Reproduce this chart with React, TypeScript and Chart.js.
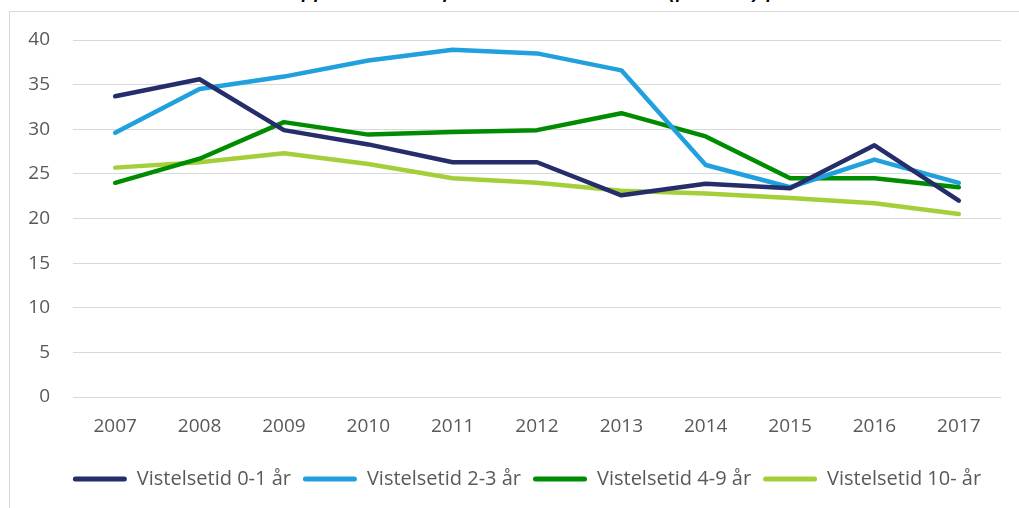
import React, { useEffect, useRef } from "react";
import { Chart, registerables } from "chart.js";

Chart.register(...registerables);

const years = ["2007", "2008", "2009", "2010", "2011", "2012", "2013", "2014", "2015", "2016", "2017"];
const seriesNames = ["Vistelsetid 0-1 år", "Vistelsetid 2-3 år", "Vistelsetid 4-9 år", "Vistelsetid 10- år"];
const v01 = [33.7, 35.6, 29.9, 28.3, 26.3, 26.3, 22.6, 23.9, 23.4, 28.2, 22.0];
const v23 = [29.6, 34.5, 35.9, 37.7, 38.9, 38.5, 36.6, 26.0, 23.5, 26.6, 24.0];
const v49 = [24.0, 26.7, 30.8, 29.4, 29.7, 29.9, 31.8, 29.2, 24.5, 24.5, 23.5];
const v10 = [25.7, 26.3, 27.3, 26.1, 24.5, 24.0, 23.1, 22.8, 22.3, 21.7, 20.5];
const colors = ["#252d6b", "#20a0dc", "#008c00", "#a5cf3a"];
const yTicks = [0, 5, 10, 15, 20, 25, 30, 35, 40];

const FONT = "'Open Sans', Lato, sans-serif";

export default function App() {
  const ref = useRef<HTMLCanvasElement | null>(null);
  useEffect(() => {
    if (!ref.current) return;
    const values = [v01, v23, v49, v10];
    const chart = new Chart(ref.current, {
      type: "line",
      data: {
        labels: years,
        datasets: seriesNames.map((n, i) => ({
          label: n,
          data: values[i],
          borderColor: colors[i],
          backgroundColor: colors[i],
          borderWidth: 4.5,
          pointRadius: 0,
          tension: 0,
          borderCapStyle: "round" as const,
          borderJoinStyle: "round" as const,
        })),
      },
      options: {
        animation: false,
        responsive: false,
        layout: { padding: { top: 28, right: 0, bottom: 9, left: 0 } },
        plugins: {
          tooltip: { enabled: false },
          legend: {
            position: "bottom",
            labels: {
              boxWidth: 54,
              boxHeight: 5,
              padding: 12,
              color: "#595959",
              font: { family: FONT, size: 20 },
              generateLabels: (c: any) =>
                c.data.datasets.map((d: any, i: number) => ({
                  text: d.label,
                  fillStyle: colors[i],
                  strokeStyle: colors[i],
                  lineWidth: 0,
                  borderRadius: 2.5,
                  fontColor: "#595959",
                  datasetIndex: i,
                  hidden: false,
                })),
              useBorderRadius: true,
            },
          },
        },
        scales: {
          x: {
            offset: true,
            grid: { display: false, drawTicks: false },
            border: { display: false },
            ticks: { color: "#595959", font: { family: FONT, size: 19 }, padding: 18, maxRotation: 0 },
            afterFit: (s: any) => {
              s.height = 60;
              s.paddingLeft = 0;
              s.paddingRight = 43;
            },
          },
          y: {
            min: 0,
            max: 40,
            afterBuildTicks: (s: any) => {
              s.ticks = yTicks.map((v) => ({ value: v }));
            },
            grid: { color: "#d9d9d9", lineWidth: 1, drawTicks: false },
            border: { display: false },
            ticks: { color: "#595959", font: { family: FONT, size: 19 }, padding: 23 },
            afterFit: (s: any) => {
              s.width = 63;
              s.paddingTop = 0;
              s.paddingBottom = 0;
            },
          },
        },
      },
    });
    return () => chart.destroy();
  }, []);

  return (
    <div style={{ position: "absolute", left: 0, top: 0, width: 1019, height: 508, overflow: "hidden", background: "#fff" }}>
      <div
        style={{
          position: "absolute",
          left: 0,
          top: -18,
          width: 1019,
          whiteSpace: "nowrap",
          fontFamily: "'Liberation Sans', sans-serif",
          fontStyle: "italic",
          fontWeight: "bold",
          fontSize: 18,
          lineHeight: "20px",
          color: "#000",
          paddingLeft: 110,
          letterSpacing: "1.5px",
        }}
      >
        Andel elever som uppnått kunskapskraven i alla ämnen (procent) per vistelsetid
      </div>
      <div
        style={{
          position: "absolute",
          left: 9,
          top: 11,
          width: 1040,
          height: 520,
          border: "1.5px solid #d9d9d9",
          boxSizing: "border-box",
        }}
      />
      <canvas ref={ref} width={1034} height={496} style={{ position: "absolute", left: 10, top: 12, width: 1034, height: 496 }} />
    </div>
  );
}
